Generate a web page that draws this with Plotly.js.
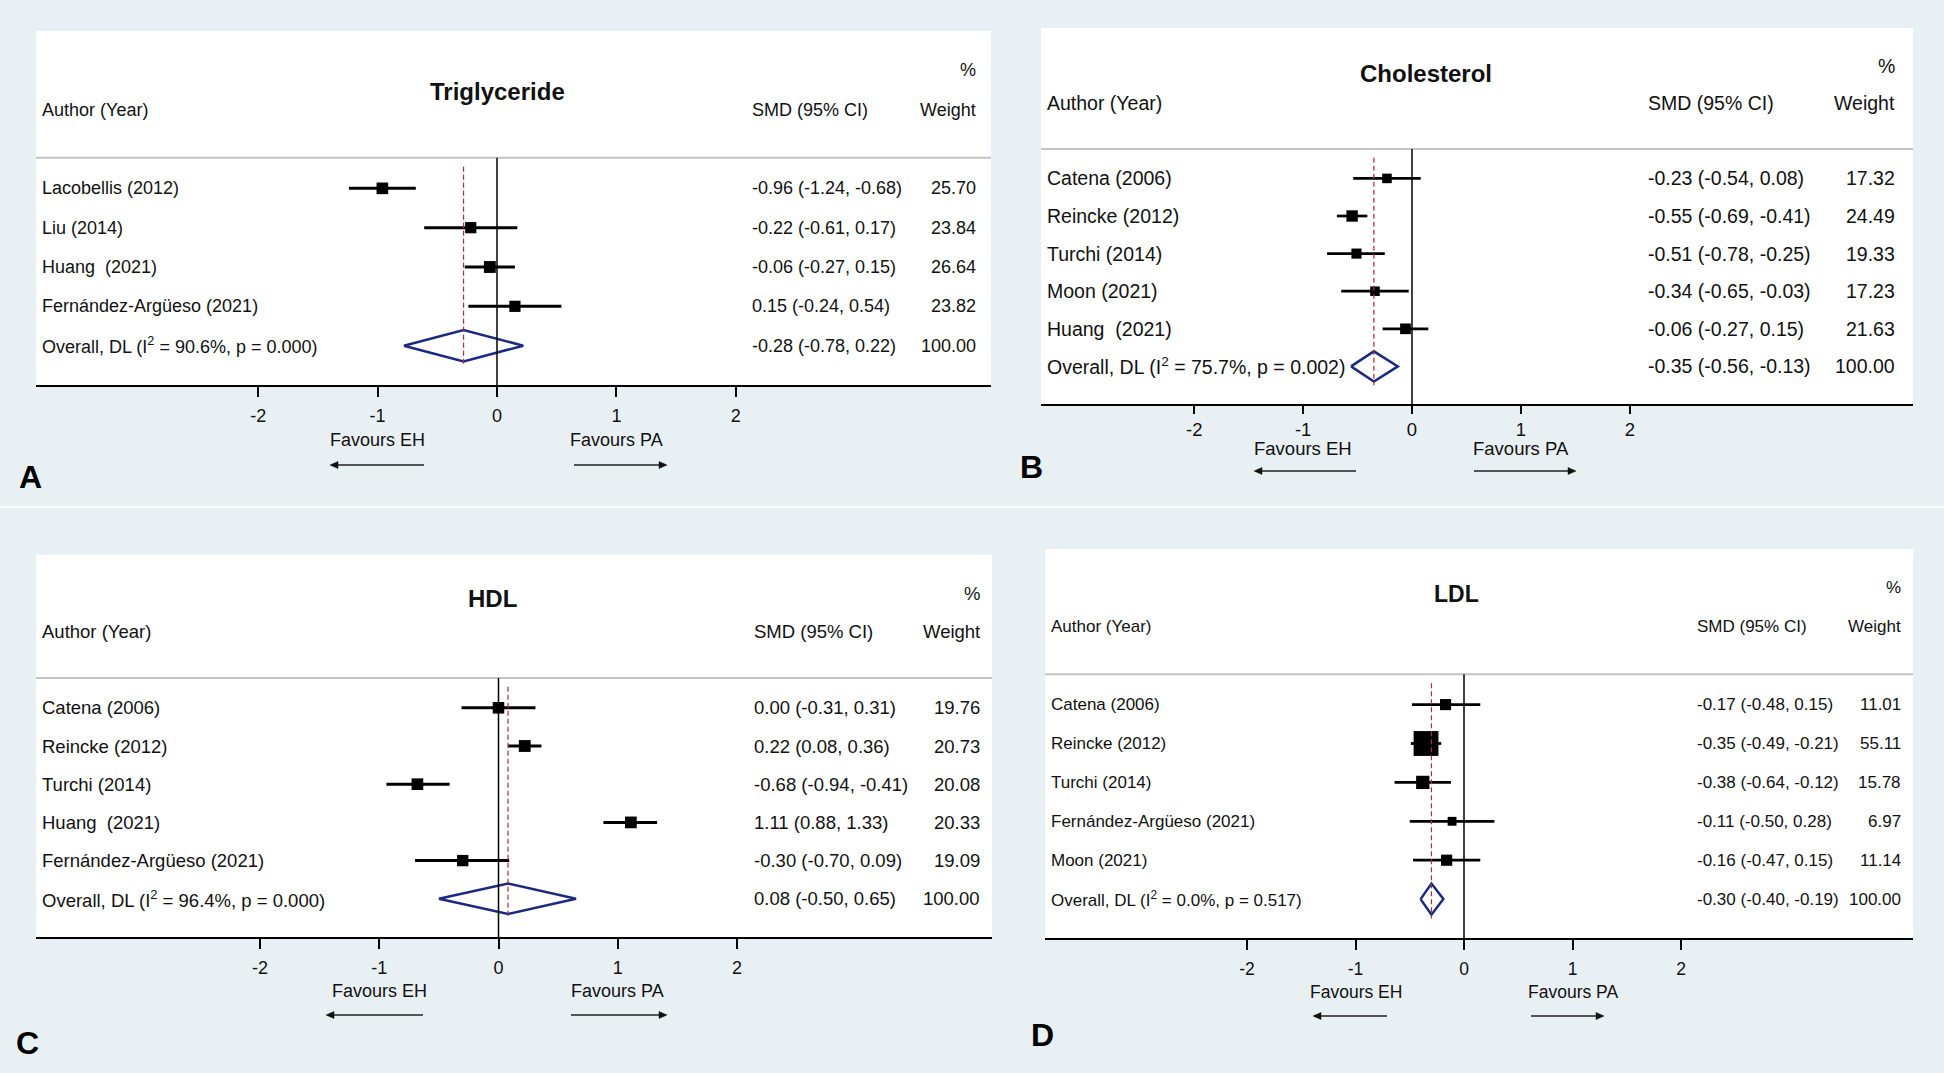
<!DOCTYPE html>
<html><head><meta charset="utf-8">
<script src="https://cdn.plot.ly/plotly-3.0.1.min.js"></script>
<style>html,body{margin:0;padding:0;background:#e8f0f3;}#chart{width:1944px;height:1073px;}</style>
</head><body><div id="chart"></div>
<script>
// ---------- DATA ----------
// A: Triglyceride
const tgStudies = ["Lacobellis (2012)", "Liu (2014)", "Huang  (2021)", "Fernández-Argüeso (2021)"];
const tgSMD = [-0.96, -0.22, -0.06, 0.15];
const tgLow = [-1.24, -0.61, -0.27, -0.24];
const tgHigh = [-0.68, 0.17, 0.15, 0.54];
const tgWeight = [25.70, 23.84, 26.64, 23.82];
const tgOverall = [-0.28, -0.78, 0.22];
const tgI2 = "90.6", tgP = "0.000";
// B: Cholesterol
const chStudies = ["Catena (2006)", "Reincke (2012)", "Turchi (2014)", "Moon (2021)", "Huang  (2021)"];
const chSMD = [-0.23, -0.55, -0.51, -0.34, -0.06];
const chLow = [-0.54, -0.69, -0.78, -0.65, -0.27];
const chHigh = [0.08, -0.41, -0.25, -0.03, 0.15];
const chWeight = [17.32, 24.49, 19.33, 17.23, 21.63];
const chOverall = [-0.35, -0.56, -0.13];
const chI2 = "75.7", chP = "0.002";
// C: HDL
const hdStudies = ["Catena (2006)", "Reincke (2012)", "Turchi (2014)", "Huang  (2021)", "Fernández-Argüeso (2021)"];
const hdSMD = [0.00, 0.22, -0.68, 1.11, -0.30];
const hdLow = [-0.31, 0.08, -0.94, 0.88, -0.70];
const hdHigh = [0.31, 0.36, -0.41, 1.33, 0.09];
const hdWeight = [19.76, 20.73, 20.08, 20.33, 19.09];
const hdOverall = [0.08, -0.50, 0.65];
const hdI2 = "96.4", hdP = "0.000";
// D: LDL
const ldStudies = ["Catena (2006)", "Reincke (2012)", "Turchi (2014)", "Fernández-Argüeso (2021)", "Moon (2021)"];
const ldSMD = [-0.17, -0.35, -0.38, -0.11, -0.16];
const ldLow = [-0.48, -0.49, -0.64, -0.50, -0.47];
const ldHigh = [0.15, -0.21, -0.12, 0.28, 0.15];
const ldWeight = [11.01, 55.11, 15.78, 6.97, 11.14];
const ldOverall = [-0.30, -0.40, -0.19];
const ldI2 = "0.0", ldP = "0.517";

const tickValues = [-2, -1, 0, 1, 2];
const tickLabels = ["-2", "-1", "0", "1", "2"];
const favourLeft = "Favours EH", favourRight = "Favours PA";

// ---------- LAYOUT GEOMETRY (pixels) ----------
const W = 1944, H = 1073;
const px = x => x / W;
const py = y => 1 - y / H;
const FONT = "Liberation Sans, Arial, sans-serif";
const NAVY = "#1b2a80", RED = "#b22a30", BG = "#e8f0f3";

const panels = [
  {title: "Triglyceride", letter: "A", studies: tgStudies, smd: tgSMD, low: tgLow, high: tgHigh, weight: tgWeight, overall: tgOverall, i2: tgI2, p: tgP,
   g: {l: 36, r: 991, t: 31, b: 385, zero: 497, unit: 119.4, authorX: 41, smdX: 751, weightX: 977, titleX: 497, titleRow: -2.45,
       ticklen: 10, standoff: 3, favY: 440, arrowY: 465, arrowL: [330, 424], arrowR: [574, 667], letterXY: [30, 477], font: 18, tickFont: 18, titleFont: 24, k: 2.3, ciW: 3}},
  {title: "Cholesterol", letter: "B", studies: chStudies, smd: chSMD, low: chLow, high: chHigh, weight: chWeight, overall: chOverall, i2: chI2, p: chP,
   g: {l: 1041, r: 1913, t: 28, b: 404, zero: 1412, unit: 108.9, authorX: 1046, smdX: 1647, weightX: 1896, titleX: 1426, titleRow: -2.8,
       ticklen: 8, standoff: 0, favY: 449, arrowY: 471, arrowL: [1254, 1356], arrowR: [1474, 1576], letterXY: [1031, 467], font: 19.5, tickFont: 18.5, titleFont: 24, k: 2.3, ciW: 2.7}},
  {title: "HDL", letter: "C", studies: hdStudies, smd: hdSMD, low: hdLow, high: hdHigh, weight: hdWeight, overall: hdOverall, i2: hdI2, p: hdP,
   g: {l: 36, r: 992, t: 555, b: 937, zero: 498.5, unit: 119.25, authorX: 41, smdX: 753, weightX: 981, titleX: 492, titleRow: -2.87,
       ticklen: 10, standoff: 3, favY: 991, arrowY: 1015, arrowL: [326, 423], arrowR: [571, 667], letterXY: [27, 1043], font: 18.5, tickFont: 18, titleFont: 24, k: 2.6, ciW: 3}},
  {title: "LDL", letter: "D", studies: ldStudies, smd: ldSMD, low: ldLow, high: ldHigh, weight: ldWeight, overall: ldOverall, i2: ldI2, p: ldP,
   g: {l: 1045, r: 1913, t: 549, b: 938, zero: 1464, unit: 108.5, authorX: 1050, smdX: 1696, weightX: 1902, titleX: 1456, titleRow: -2.84,
       ticklen: 10, standoff: 4, favY: 992, arrowY: 1016, arrowL: [1313, 1387], arrowR: [1531, 1604], letterXY: [1042, 1035], font: 17, tickFont: 17.5, titleFont: 23, k: 3.35, ciW: 2.8}}
];

const data = [], shapes = [], annotations = [];
const layout = {
  width: W, height: H, autosize: false, margin: {l: 0, r: 0, t: 0, b: 0, pad: 0},
  paper_bgcolor: BG, plot_bgcolor: "#ffffff", showlegend: false,
  font: {family: FONT, color: "#111"}
};
const fmt = v => v.toFixed(2);
const keepSpaces = s => s.replace(/  /g, "\u00a0 ");

function arrowShapes(headX, tailX, y) {
  const dir = tailX > headX ? 1 : -1;   // head points away from the tail
  const baseX = headX + dir * 8;
  shapes.push({type: "line", xref: "paper", yref: "paper", x0: px(tailX), x1: px(baseX), y0: py(y), y1: py(y),
    line: {color: "#222", width: 1.3}});
  shapes.push({type: "path", xref: "paper", yref: "paper",
    path: `M ${px(headX)},${py(y)} L ${px(baseX)},${py(y - 3.5)} L ${px(baseX)},${py(y + 3.5)} Z`,
    fillcolor: "#111", line: {color: "#111", width: 0.5}});
}

panels.forEach((P, i) => {
  const g = P.g, n = P.studies.length, nRows = n + 1;
  const sfx = i === 0 ? "" : String(i + 1);
  const xa = "x" + sfx, ya = "y" + sfx;
  layout["xaxis" + sfx] = {
    domain: [px(g.l), px(g.r)], range: [(g.l - g.zero) / g.unit, (g.r - g.zero) / g.unit],
    anchor: ya, showgrid: false, zeroline: false, showline: true, linecolor: "#000", linewidth: 2,
    ticks: "outside", ticklen: g.ticklen, tickwidth: 2, tickcolor: "#000",
    tickvals: tickValues, ticktext: tickLabels, tickfont: {family: FONT, size: g.tickFont, color: "#111"},
    ticklabelstandoff: g.standoff, fixedrange: true
  };
  layout["yaxis" + sfx] = {
    domain: [py(g.b), py(g.t)], range: [nRows, -4], anchor: xa, visible: false,
    showgrid: false, zeroline: false, fixedrange: true
  };
  const rows = P.studies.map((_, j) => j);
  // diamond (overall)
  const [oe, ol, oh] = P.overall;
  data.push({type: "scatter", mode: "lines", xaxis: xa, yaxis: ya,
    x: [ol, oe, oh, oe, ol], y: [n, n - 0.4, n, n + 0.4, n],
    line: {color: NAVY, width: 2.5}, hoverinfo: "skip"});
  // study estimates with CI
  data.push({type: "scatter", mode: "markers", xaxis: xa, yaxis: ya,
    x: P.smd, y: rows,
    marker: {symbol: "square", color: "#000", opacity: 1, size: P.weight.map(w => g.k * Math.sqrt(w)), line: {width: 0}},
    error_x: {type: "data", symmetric: false, array: P.high.map((h, j) => h - P.smd[j]),
      arrayminus: P.low.map((l, j) => P.smd[j] - l), width: 0, thickness: g.ciW, color: "#000"},
    hoverinfo: "skip"});
  // header separator
  shapes.push({type: "line", xref: "paper", yref: ya, x0: px(g.l), x1: px(g.r), y0: -0.78, y1: -0.78,
    line: {color: "#c4c4c4", width: 2}});
  // zero line
  shapes.push({type: "line", xref: xa, yref: ya, x0: 0, x1: 0, y0: -0.78, y1: nRows, line: {color: "#000", width: 1.5}});
  // overall dashed line
  shapes.push({type: "line", xref: xa, yref: ya, x0: oe, x1: oe, y0: -0.55, y1: n + 0.5,
    line: {color: RED, width: 1.2, dash: "5px,3px"}});

  const tf = {family: FONT, size: g.font, color: "#111"};
  const add = (text, x, y, xanchor, font, yref) => annotations.push({text, x, y, xref: "paper", yref: yref || ya,
    xanchor, yanchor: "middle", showarrow: false, font: font || tf, borderpad: 0});
  // headers
  add(P.title, px(g.titleX), g.titleRow, "center", {family: FONT, size: g.titleFont, color: "#111", weight: "bold"});
  add("%", px(g.weightX), -3, "right");
  add("Author (Year)", px(g.authorX), -2, "left");
  add("SMD (95% CI)", px(g.smdX), -2, "left");
  add("Weight", px(g.weightX), -2, "right");
  // rows
  P.studies.forEach((s, j) => {
    add(keepSpaces(s), px(g.authorX), j, "left");
    add(fmt(P.smd[j]) + " (" + fmt(P.low[j]) + ", " + fmt(P.high[j]) + ")", px(g.smdX), j, "left");
    add(fmt(P.weight[j]), px(g.weightX), j, "right");
  });
  add("Overall, DL (I<sup>2</sup> = " + P.i2 + "%, p = " + P.p + ")", px(g.authorX), n, "left");
  add(fmt(oe) + " (" + fmt(ol) + ", " + fmt(oh) + ")", px(g.smdX), n, "left");
  add("100.00", px(g.weightX), n, "right");
  // favours labels
  annotations.push({text: favourLeft, x: -1, xref: xa, y: py(g.favY), yref: "paper", xanchor: "center", yanchor: "middle",
    showarrow: false, font: {family: FONT, size: g.tickFont, color: "#111"}});
  annotations.push({text: favourRight, x: 1, xref: xa, y: py(g.favY), yref: "paper", xanchor: "center", yanchor: "middle",
    showarrow: false, font: {family: FONT, size: g.tickFont, color: "#111"}});
  // arrows
  arrowShapes(g.arrowL[0], g.arrowL[1], g.arrowY);
  arrowShapes(g.arrowR[1], g.arrowR[0], g.arrowY);
  // panel letter
  annotations.push({text: P.letter, x: px(g.letterXY[0]), y: py(g.letterXY[1]), xref: "paper", yref: "paper",
    xanchor: "center", yanchor: "middle", showarrow: false, font: {family: FONT, size: 32, color: "#000", weight: "bold"}});
});
// light divider between the two rows of panels
shapes.push({type: "line", xref: "paper", yref: "paper", x0: 0, x1: 1, y0: py(507), y1: py(507), line: {color: "#ffffff", width: 2}});

layout.shapes = shapes;
layout.annotations = annotations;
Plotly.newPlot("chart", data, layout, {staticPlot: true, displayModeBar: false});
</script>
</body></html>
